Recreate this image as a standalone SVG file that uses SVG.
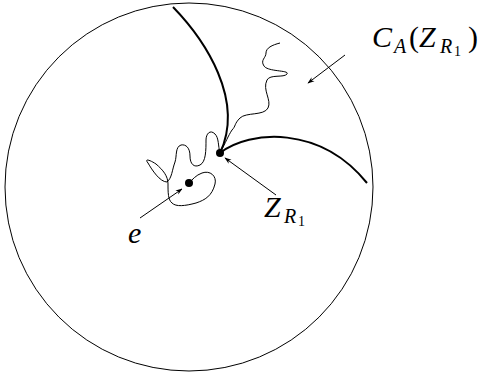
<svg xmlns="http://www.w3.org/2000/svg" width="485" height="374" viewBox="0 0 485 374">
<defs>
<marker id="ah" viewBox="0 0 10 10" refX="9" refY="5" markerWidth="7" markerHeight="7" orient="auto" markerUnits="userSpaceOnUse">
<path d="M0,1.5 L10,5 L0,8.5 L3,5 Z" fill="#000"/>
</marker>
<style>
.thin{fill:none;stroke:#000;stroke-width:1}
.thick{fill:none;stroke:#000;stroke-width:2}
.arr{fill:none;stroke:#000;stroke-width:1;marker-end:url(#ah)}
.lbl{font-family:"Liberation Serif","DejaVu Serif",serif;font-style:italic;fill:#000;font-size:30px}
.sub{font-size:20px}
.sub2{font-size:14px;font-style:normal}
.up{font-style:normal}
</style>
</defs>
<rect width="485" height="374" fill="#fff"/>
<g id="disk"><circle class="thin" cx="189" cy="187" r="184"/></g>
<g id="hull">
<path class="thick" d="M173,7 C205,40 245,100 220,153"/>
<path class="thick" d="M220,153 C250,130 320,125 367,183"/>
<path class="thin" d="M280,43 C272,45 266,48 266,53 C266,58 260,60 264,66 C268,72 290,70 287,74 C284,78 270,74 267,80 C262,90 272,100 268,108 C264,116 246,112 240,118 C234,124 236,126 232,130 C228,136 226,142 220,153"/>
</g>
<g id="walk">
<path class="thin" d="M220,153 C218,146 219,138 215,134 C210,129 206,134 206,140 C206,150 206,162 200,165 C194,168 190,164 190,156 C190,148 186,144 181,145 C175,147 177,156 175,162 C172,170 172,178 167,182 C160,182 152,170 148,163 C144,158 150,160 156,164 C163,170 168,176 168,184 C168,192 168,200 172,203 C176,207 185,206 196,203 C205,200 212,196 215,184 C217,176 210,170 202,173 C196,175 192,180 189,183"/>
</g>
<g id="Z"><circle cx="220" cy="153" r="4"/></g>
<g id="e"><circle cx="189" cy="183" r="4"/></g>
<g id="connectors">
<line class="arr" x1="140" y1="218" x2="182" y2="189"/>
<line class="arr" x1="276" y1="195" x2="225" y2="158"/>
<line class="arr" x1="345" y1="55" x2="308" y2="83"/>
</g>
<g id="labels">
<text class="lbl" x="128" y="243">e</text>
<text class="lbl" x="264" y="217">Z<tspan class="sub" x="284" y="223">R</tspan><tspan class="sub2" x="298" y="226">1</tspan></text>
<text class="lbl" x="372" y="47">C<tspan class="sub" x="394" y="53">A</tspan><tspan class="up" x="409" y="47">(</tspan><tspan x="419">Z</tspan><tspan class="sub" x="440" y="53">R</tspan><tspan class="sub2" x="454" y="56">1</tspan><tspan class="up" x="468" y="47">)</tspan></text>
</g>
</svg>
